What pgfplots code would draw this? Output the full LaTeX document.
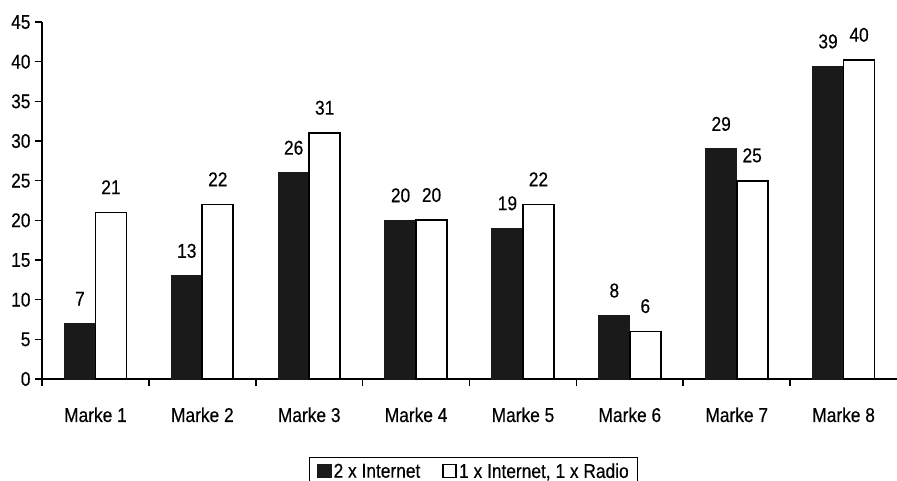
\documentclass[border=0pt]{standalone}
\usepackage{fontspec}
\setmainfont{Liberation Sans}[FakeStretch=0.87,FakeBold=0.4]
\usepackage{pgfplots}
\pgfplotsset{compat=1.18}
\definecolor{barblack}{HTML}{1A1A1A}
\newcommand\cf{\fontsize{20}{22}\selectfont}
\begin{document}
\begin{tikzpicture}[font=\cf]
\begin{axis}[
  scale only axis,
  width=855bp, height=357bp,
  xmin=0.5, xmax=8.5,
  ymin=0, ymax=45,
  ytick={0,5,...,45},
  xtick={0.5,1.5,...,7.5},
  xticklabels={Marke 1,Marke 2,Marke 3,Marke 4,Marke 5,Marke 6,Marke 7,Marke 8},
  axis x line*=bottom,
  axis y line*=left,
  axis line style={line width=1.8bp,-},
  tick align=outside,
  tick style={line width=1.6bp,black},
  major tick length=7bp,
  tick label style={font=\cf},
  xticklabel style={xshift=53.5bp,yshift=-18bp},
  yticklabel style={xshift=-1bp},
  /pgf/number format/assume math mode=true,
  ybar=0pt,
  bar width=31bp,
  nodes near coords,
  every node near coord/.append style={yshift=14bp,font=\cf,
    /pgf/number format/fixed,/pgf/number format/precision=0},
  legend columns=2,
  legend style={at={(0.505,-0.2185)},anchor=north,draw=black,line width=1bp,
    font=\cf,
    /tikz/every even column/.append style={column sep=20bp},
    inner ysep=4bp, inner xsep=7bp},
  legend image code/.code={\draw[#1,line width=1.8bp] (0bp,-6bp) rectangle (13bp,7bp);},
]
\addplot[fill=barblack,draw=barblack,line width=1.2bp] coordinates {(1,7) (2,13) (3,26) (4,20) (5,19) (6,8) (7,29) (8,39.4)};
\addplot[fill=white,draw=black,line width=1.8bp] coordinates {(1,21) (2,22) (3,31) (4,20) (5,22) (6,6) (7,25) (8,40.2)};
\legend{2 x Internet,1 x Internet{,} 1 x Radio}
\end{axis}
\pgfresetboundingbox
\path (-42bp,-102bp) rectangle (855bp,379bp);
\end{tikzpicture}
\end{document}
